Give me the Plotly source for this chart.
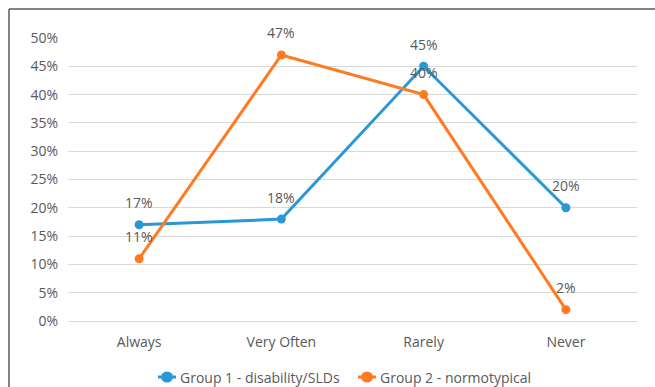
import plotly.graph_objects as go

categories = ["Always", "Very Often", "Rarely", "Never"]
group1 = [0.17, 0.18, 0.45, 0.20]
group2 = [0.11, 0.47, 0.40, 0.02]
series_names = ["Group 1 - disability/SLDs", "Group 2 - normotypical"]
y_ticks = [0, 0.05, 0.10, 0.15, 0.20, 0.25, 0.30, 0.35, 0.40, 0.45, 0.50]

BLUE = "#2B98D6"
ORANGE = "#FF7A21"
TEXT = "#595959"
GRID = "#D9D9D9"
FONT = "Open Sans"
FS = 14

W, H = 655, 387
ML, MR, MT, MB = 68, 18, 38, 66
PW, PH = W - ML - MR, H - MT - MB


def px_x(p):
    return (p - ML) / PW


def px_y(p):
    return (H - MB - p) / PH


fig = go.Figure()
for name, vals, color in [(series_names[0], group1, BLUE), (series_names[1], group2, ORANGE)]:
    fig.add_trace(go.Scatter(
        x=categories, y=vals, name=name, mode="lines+markers",
        line=dict(color=color, width=3),
        marker=dict(color=color, size=9),
        showlegend=False,
    ))
    for c, v in zip(categories, vals):
        fig.add_annotation(
            x=c, y=v, text=f"{round(v * 100)}%", showarrow=False,
            yshift=22, font=dict(family=FONT, size=FS, color=TEXT),
        )

# Legend row drawn beneath the axis: swatch (short line + dot) then label
legend_y = px_y(377)
for name, color, cx in [(series_names[0], BLUE, 167), (series_names[1], ORANGE, 367)]:
    fig.add_shape(type="line", xref="paper", yref="paper",
                  x0=px_x(cx - 9), x1=px_x(cx + 9), y0=legend_y, y1=legend_y,
                  line=dict(color=color, width=3))
    fig.add_shape(type="circle", xref="paper", yref="paper",
                  xsizemode="pixel", ysizemode="pixel",
                  xanchor=px_x(cx), yanchor=legend_y,
                  x0=-6, x1=6, y0=-5.5, y1=5.5,
                  fillcolor=color, line=dict(color=color, width=0))
    fig.add_annotation(x=px_x(cx + 11), y=legend_y, xref="paper", yref="paper",
                       xanchor="left", yanchor="middle", text=name, showarrow=False,
                       font=dict(family=FONT, size=FS, color=TEXT))

# Outer frame: left and top edges only
frame = dict(color="#5A5A5A", width=1.5)
fig.add_shape(type="line", xref="paper", yref="paper",
              x0=px_x(9), x1=px_x(9), y0=px_y(9), y1=px_y(H + 2), line=frame)
fig.add_shape(type="line", xref="paper", yref="paper",
              x0=px_x(9), x1=px_x(W + 2), y0=px_y(9), y1=px_y(9), line=frame)

fig.update_layout(
    width=W, height=H,
    margin=dict(l=ML, r=MR, t=MT, b=MB),
    paper_bgcolor="white", plot_bgcolor="white",
    font=dict(family=FONT, size=FS, color=TEXT),
    showlegend=False,
    xaxis=dict(
        type="category", range=[-0.5, 3.5], showgrid=False,
        ticks="outside", ticklen=8, tickcolor="rgba(0,0,0,0)",
        tickfont=dict(family=FONT, size=FS, color=TEXT),
        showline=False, zeroline=False,
    ),
    yaxis=dict(
        range=[0, 0.5], tickvals=y_ticks, tickformat=".0%",
        showgrid=True, gridcolor=GRID, gridwidth=1,
        zeroline=True, zerolinecolor=GRID, zerolinewidth=1,
        ticks="outside", ticklen=6, tickcolor="rgba(0,0,0,0)",
        tickfont=dict(family=FONT, size=FS, color=TEXT),
        showline=False,
    ),
)

fig.write_html("out.html")
